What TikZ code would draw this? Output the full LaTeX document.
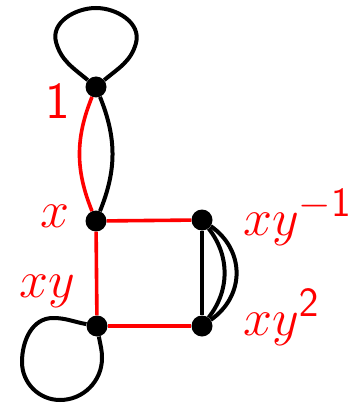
\RequirePackage{fix-cm}
\documentclass[tikz,border=0pt]{standalone}
\DeclareMathSizes{52}{52}{41.6}{31}
\begin{document}
\begin{tikzpicture}[x=1pt,y=1pt]
\tikzset{
  dot/.style={circle,fill=black,inner sep=0pt,minimum size=21pt},
  blk/.style={line width=4pt,black,line join=round},
  redl/.style={line width=3.6pt,red},
  lab/.style={text=red,inner sep=0pt,font=\fontsize{52}{60}\selectfont}
}
\useasboundingbox (0,0) rectangle (358,-403);
\node[dot] (A) at (96,-87) {};
\node[dot] (X) at (96,-221) {};
\node[dot] (Xi) at (202,-220) {};
\node[dot] (Y) at (97,-326) {};
\node[dot] (Y2) at (202,-326) {};
% loops
\coordinate (t1) at (56,-42);
\coordinate (t2) at (96,-8);
\coordinate (t3) at (136,-43);
\draw[blk] (A) to[out=140,in=-75] (t1) to[out=105,in=180] (t2)
  to[out=0,in=75] (t3) to[out=-105,in=40] (A);
\coordinate (b0) at (53,-318);
\coordinate (b1) at (22,-362);
\coordinate (b2) at (60,-400);
\coordinate (b3) at (102,-358);
\draw[blk] (Y) to[out=170,in=0] (b0) to[out=180,in=90] (b1)
  to[out=-90,in=180] (b2) to[out=0,in=-90] (b3) to[out=90,in=-80] (Y);
% top pair
\draw[redl] (A) to[bend right=22] (X);
\draw[blk] (A) to[bend left=22] (X);
% red square edges
\draw[redl] (X) -- (Xi);
\draw[redl] (X) -- (Y);
\draw[redl] (Y) -- (Y2);
% triple edge
\draw[blk] (Xi) -- (Y2);
\draw[blk] (Xi) to[bend left=38] (Y2);
\draw[blk] (Xi) to[bend left=55,looseness=1.15] (Y2);
% labels
\node[lab,anchor=base east] (l1) at (70,-119) {$\mathsf{1}$};
\node[lab,anchor=base east] (lx) at (70,-227) {$x$};
\node[lab,anchor=base east] (lxy) at (75,-297) {$xy$};
\node[lab,anchor=base west] (lxyi) at (243,-235) {$xy^{-\mathsf{1}}$};
\node[lab,anchor=base west] (lxy2) at (243,-335) {$xy^{\mathsf{2}}$};
\end{tikzpicture}
\end{document}
